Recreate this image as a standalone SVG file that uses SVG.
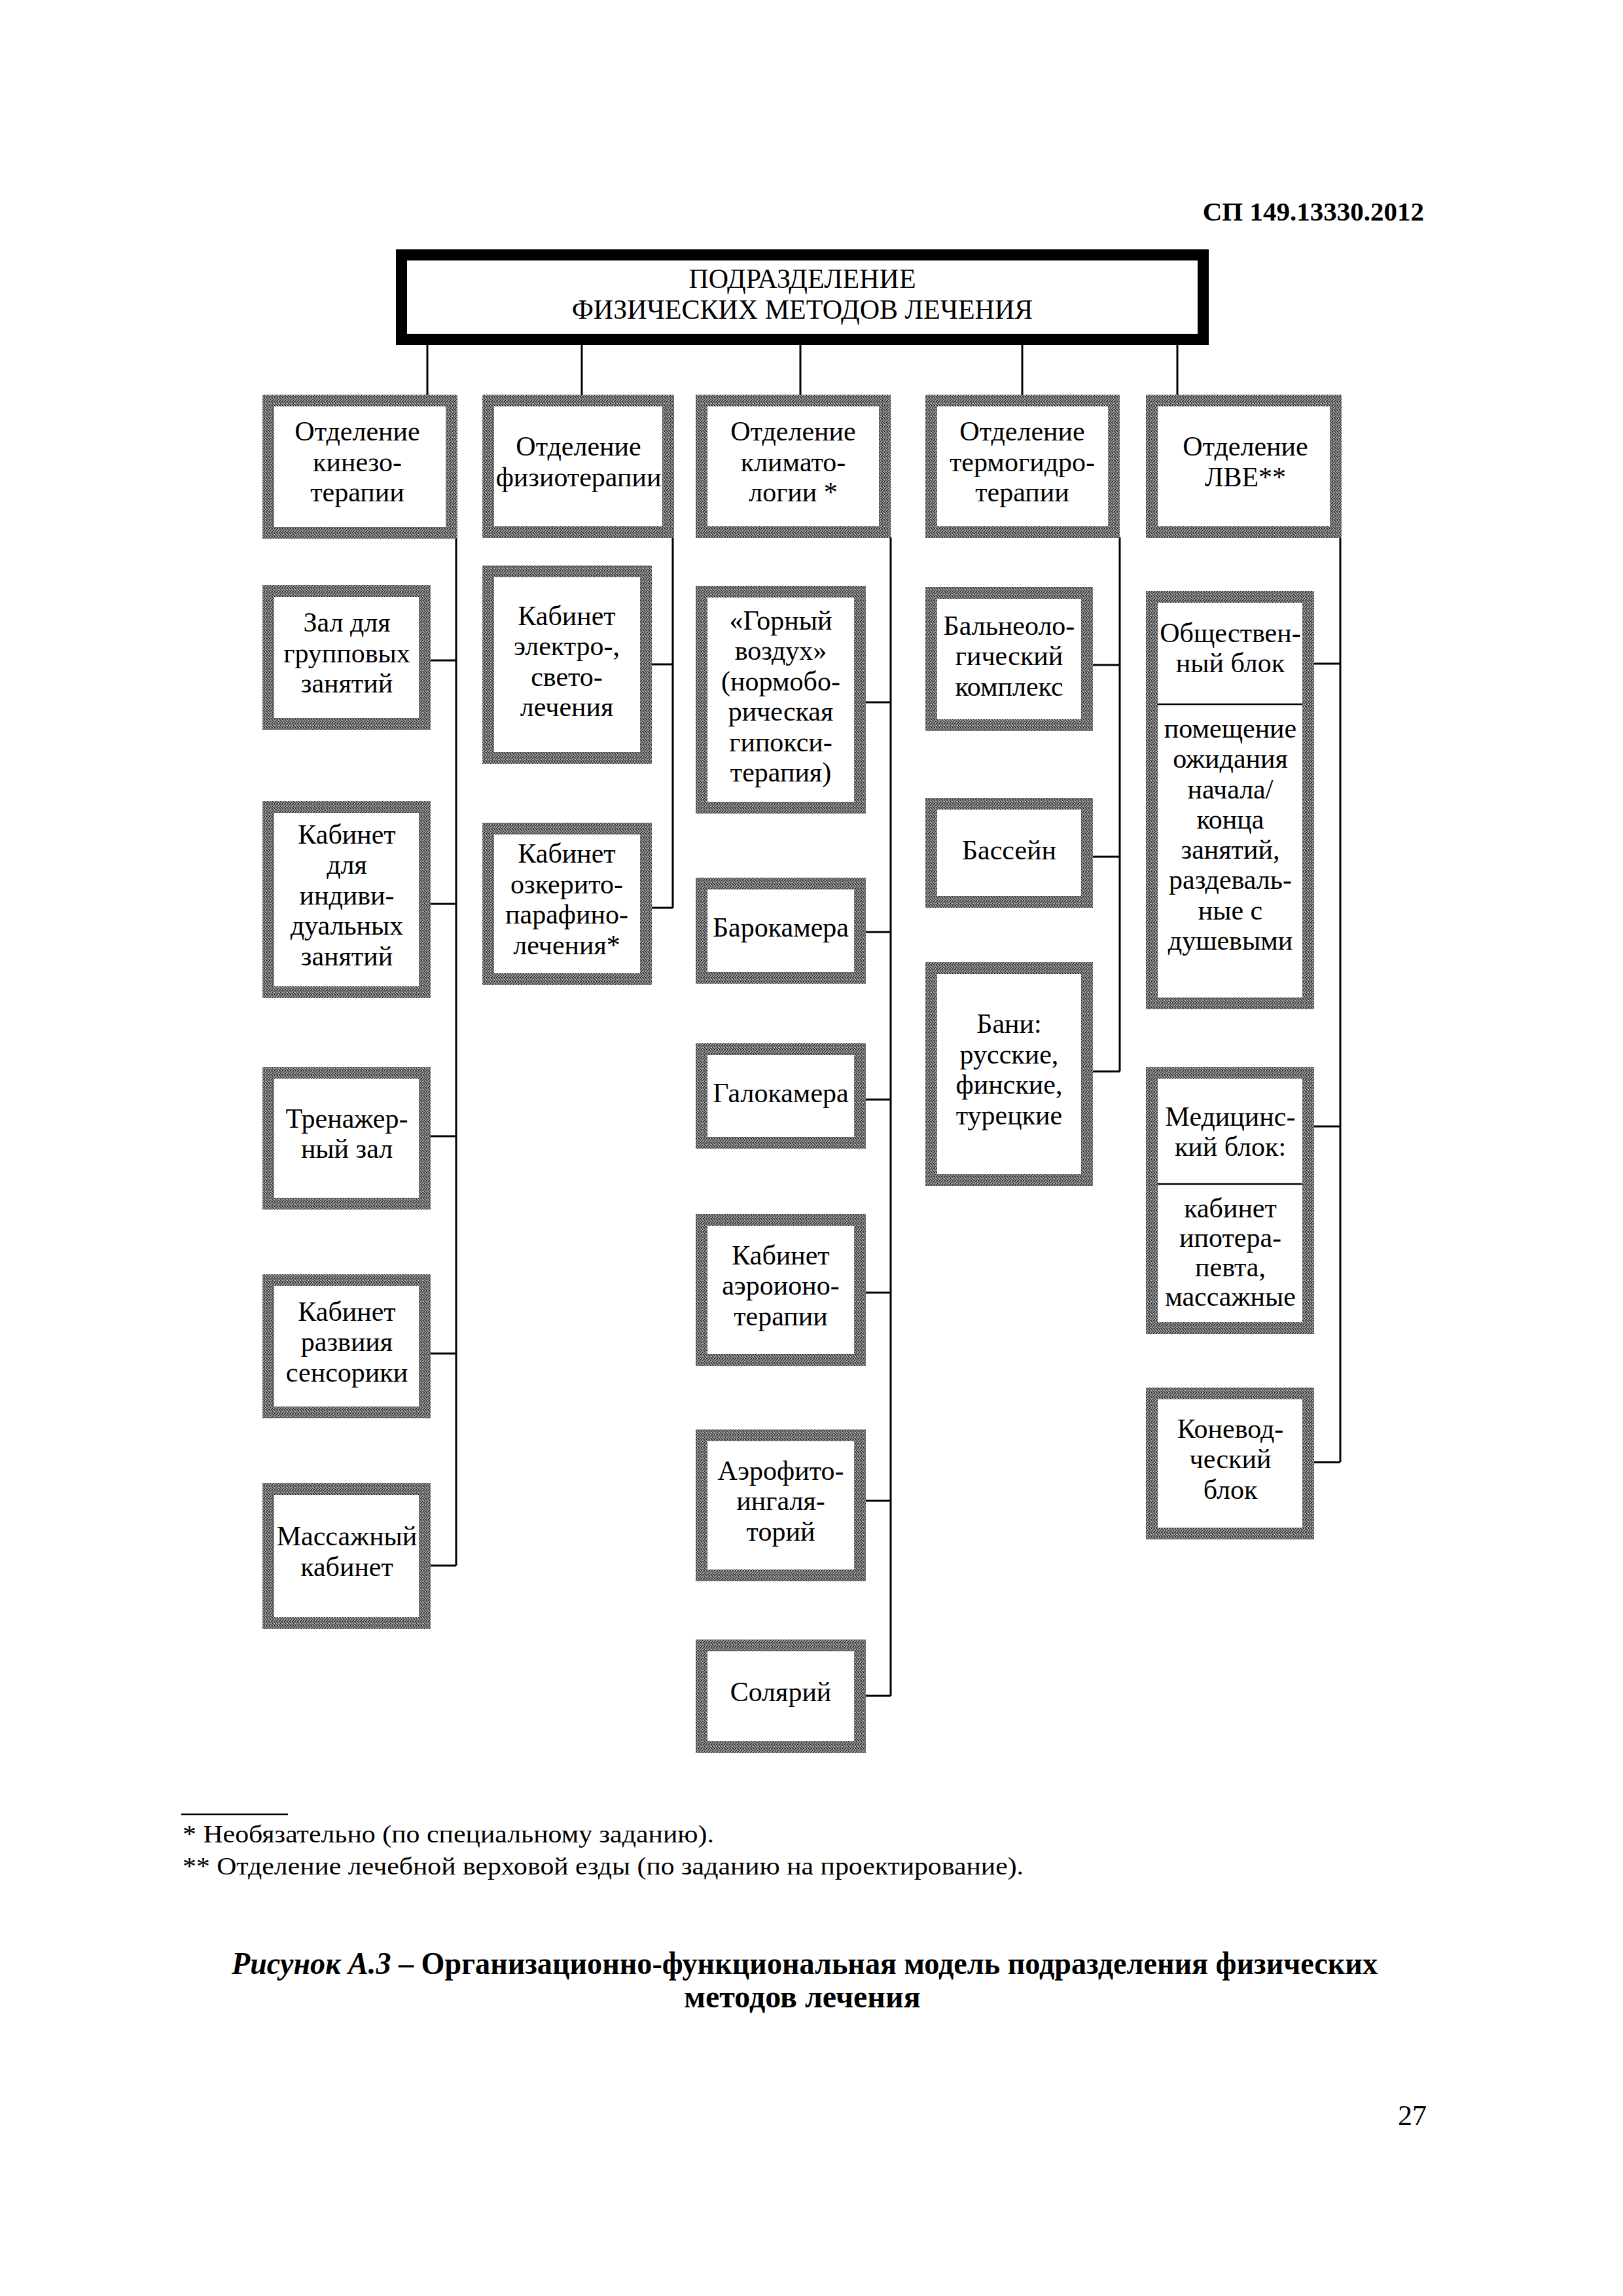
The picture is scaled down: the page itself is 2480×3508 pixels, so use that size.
<svg xmlns="http://www.w3.org/2000/svg" width="2480" height="3508" viewBox="0 0 2480 3508">
<defs>
<pattern id="ht" width="4" height="4" patternUnits="userSpaceOnUse">
<rect width="4" height="4" fill="#8e8e8e"/>
<rect x="0" y="0" width="1" height="1" fill="#1a1a1a"/>
<rect x="2" y="1" width="1" height="1" fill="#2a2a2a"/>
<rect x="1" y="2" width="1" height="1" fill="#222"/>
<rect x="3" y="3" width="1" height="1" fill="#111"/>
<rect x="3" y="1" width="1" height="1" fill="#444"/>
<rect x="3" y="0" width="1" height="1" fill="#cfcfcf"/>
<rect x="1" y="3" width="1" height="1" fill="#bbb"/>
<rect x="0" y="3" width="1" height="1" fill="#444"/>
</pattern>
<style>
.box{fill:#fff;stroke:url(#ht);stroke-width:18}
.top{fill:#fff;stroke:#000;stroke-width:17}
.t{font-family:"Liberation Serif","Times New Roman",serif;font-size:42px;text-anchor:middle;fill:#000}
.ln{stroke:#000;stroke-width:3;fill:none}
.div{stroke:#000;stroke-width:2.5}
.note{font-family:"Liberation Serif","Times New Roman",serif;font-size:37px;fill:#000}
.cap{font-family:"Liberation Serif","Times New Roman",serif;font-size:48px;font-weight:bold;fill:#000}
</style>
</defs>
<rect width="2480" height="3508" fill="#fff"/>

<text x="2176" y="337" font-family="Liberation Serif, serif" font-size="41" font-weight="bold" text-anchor="end">СП 149.13330.2012</text>

<g id="connectors">
<path class="ln" d="M653 527V603M889 527V603M1223 527V603M1562 527V603M1799 527V603"/>
<path class="ln" d="M697 823V2392M658 1009H697M658 1381H697M658 1736H697M658 2068H697M658 2392H697"/>
<path class="ln" d="M1028 821V1387M996 1015H1028M996 1387H1028"/>
<path class="ln" d="M1361 821V2591M1323 1073H1361M1323 1424H1361M1323 1680H1361M1323 1975H1361M1323 2293H1361M1323 2591H1361"/>
<path class="ln" d="M1711 821V1637M1670 1016H1711M1670 1309H1711M1670 1637H1711"/>
<path class="ln" d="M2048 821V2234M2008 1014H2048M2008 1721H2048M2008 2234H2048"/>
</g>

<g id="root">
<rect class="top" x="613.5" y="389.5" width="1225" height="129"/>
<text class="t" x="1226" y="440">ПОДРАЗДЕЛЕНИЕ</text>
<text class="t" x="1226" y="487">ФИЗИЧЕСКИХ МЕТОДОВ ЛЕЧЕНИЯ</text>
</g>

<g id="kinezo">
<rect class="box" x="410" y="612" width="280" height="202"/>
<text class="t" x="546" y="673">Отделение</text>
<text class="t" x="546" y="720">кинезо-</text>
<text class="t" x="546" y="766">терапии</text>
</g>
<g id="fizio">
<rect class="box" x="746" y="612" width="275" height="201"/>
<text class="t" x="884" y="696">Отделение</text>
<text class="t" x="884" y="743">физиотерапии</text>
</g>
<g id="klimato">
<rect class="box" x="1072" y="612" width="280" height="201"/>
<text class="t" x="1212" y="673">Отделение</text>
<text class="t" x="1212" y="720">климато-</text>
<text class="t" x="1212" y="766">логии *</text>
</g>
<g id="termo">
<rect class="box" x="1423" y="612" width="279" height="201"/>
<text class="t" x="1562" y="673">Отделение</text>
<text class="t" x="1562" y="720">термогидро-</text>
<text class="t" x="1562" y="766">терапии</text>
</g>
<g id="lve">
<rect class="box" x="1760" y="612" width="281" height="201"/>
<text class="t" x="1903" y="696">Отделение</text>
<text class="t" x="1903" y="743">ЛВЕ**</text>
</g>

<g id="zal">
<rect class="box" x="410" y="903" width="239" height="203"/>
<text class="t" x="530" y="965">Зал для</text>
<text class="t" x="530" y="1012">групповых</text>
<text class="t" x="530" y="1058">занятий</text>
</g>
<g id="individ">
<rect class="box" x="410" y="1233" width="239" height="283"/>
<text class="t" x="530" y="1289">Кабинет</text>
<text class="t" x="530" y="1335">для</text>
<text class="t" x="530" y="1382">индиви-</text>
<text class="t" x="530" y="1428">дуальных</text>
<text class="t" x="530" y="1475">занятий</text>
</g>
<g id="trenazh">
<rect class="box" x="410" y="1639" width="239" height="200"/>
<text class="t" x="530" y="1723">Тренажер-</text>
<text class="t" x="530" y="1769">ный зал</text>
</g>
<g id="sensor">
<rect class="box" x="410" y="1956" width="239" height="202"/>
<text class="t" x="530" y="2018">Кабинет</text>
<text class="t" x="530" y="2064">развиия</text>
<text class="t" x="530" y="2111">сенсорики</text>
</g>
<g id="massazh">
<rect class="box" x="410" y="2275" width="239" height="205"/>
<text class="t" x="530" y="2361">Массажный</text>
<text class="t" x="530" y="2408">кабинет</text>
</g>

<g id="elektro">
<rect class="box" x="746" y="873" width="241" height="285"/>
<text class="t" x="866" y="955">Кабинет</text>
<text class="t" x="866" y="1001">электро-,</text>
<text class="t" x="866" y="1048">свето-</text>
<text class="t" x="866" y="1094">лечения</text>
</g>
<g id="ozokerit">
<rect class="box" x="746" y="1266" width="241" height="230"/>
<text class="t" x="866" y="1318">Кабинет</text>
<text class="t" x="866" y="1365">озкерито-</text>
<text class="t" x="866" y="1411">парафино-</text>
<text class="t" x="866" y="1458">лечения*</text>
</g>

<g id="gorny">
<rect class="box" x="1072" y="904" width="242" height="330"/>
<text class="t" x="1193" y="962">«Горный</text>
<text class="t" x="1193" y="1008">воздух»</text>
<text class="t" x="1193" y="1055">(нормобо-</text>
<text class="t" x="1193" y="1101">рическая</text>
<text class="t" x="1193" y="1148">гипокси-</text>
<text class="t" x="1193" y="1194">терапия)</text>
</g>
<g id="baro">
<rect class="box" x="1072" y="1350" width="242" height="144"/>
<text class="t" x="1193" y="1431">Барокамера</text>
</g>
<g id="galo">
<rect class="box" x="1072" y="1603" width="242" height="143"/>
<text class="t" x="1193" y="1684">Галокамера</text>
</g>
<g id="aeroion">
<rect class="box" x="1072" y="1864" width="242" height="214"/>
<text class="t" x="1193" y="1932">Кабинет</text>
<text class="t" x="1193" y="1978">аэроионо-</text>
<text class="t" x="1193" y="2025">терапии</text>
</g>
<g id="aerofito">
<rect class="box" x="1072" y="2193" width="242" height="214"/>
<text class="t" x="1193" y="2261">Аэрофито-</text>
<text class="t" x="1193" y="2307">ингаля-</text>
<text class="t" x="1193" y="2354">торий</text>
</g>
<g id="solyariy">
<rect class="box" x="1072" y="2514" width="242" height="155"/>
<text class="t" x="1193" y="2599">Солярий</text>
</g>

<g id="balneo">
<rect class="box" x="1423" y="906" width="238" height="202"/>
<text class="t" x="1542" y="970">Бальнеоло-</text>
<text class="t" x="1542" y="1016">гический</text>
<text class="t" x="1542" y="1063">комплекс</text>
</g>
<g id="bassein">
<rect class="box" x="1423" y="1228" width="238" height="150"/>
<text class="t" x="1542" y="1313">Бассейн</text>
</g>
<g id="bani">
<rect class="box" x="1423" y="1479" width="238" height="324"/>
<text class="t" x="1542" y="1578">Бани:</text>
<text class="t" x="1542" y="1625">русские,</text>
<text class="t" x="1542" y="1671">финские,</text>
<text class="t" x="1542" y="1718">турецкие</text>
</g>

<g id="obshch">
<rect class="box" x="1760" y="912" width="239" height="621"/>
<line class="div" x1="1769" y1="1076" x2="1990" y2="1076"/>
<text class="t" x="1880" y="981">Обществен-</text>
<text class="t" x="1880" y="1027">ный блок</text>
<text class="t" x="1880" y="1127">помещение</text>
<text class="t" x="1880" y="1173">ожидания</text>
<text class="t" x="1880" y="1220">начала/</text>
<text class="t" x="1880" y="1266">конца</text>
<text class="t" x="1880" y="1312">занятий,</text>
<text class="t" x="1880" y="1358">раздеваль-</text>
<text class="t" x="1880" y="1405">ные с</text>
<text class="t" x="1880" y="1451">душевыми</text>
</g>
<g id="med">
<rect class="box" x="1760" y="1639" width="239" height="390"/>
<line class="div" x1="1769" y1="1809" x2="1990" y2="1809"/>
<text class="t" x="1880" y="1720">Медицинс-</text>
<text class="t" x="1880" y="1766">кий блок:</text>
<text class="t" x="1880" y="1860">кабинет</text>
<text class="t" x="1880" y="1905">ипотера-</text>
<text class="t" x="1880" y="1950">певта,</text>
<text class="t" x="1880" y="1995">массажные</text>
</g>
<g id="konevod">
<rect class="box" x="1760" y="2129" width="239" height="214"/>
<text class="t" x="1880" y="2197">Коневод-</text>
<text class="t" x="1880" y="2243">ческий</text>
<text class="t" x="1880" y="2290">блок</text>
</g>

<line x1="277" y1="2772" x2="440" y2="2772" stroke="#000" stroke-width="2.5"/>
<text class="note" x="279" y="2815" textLength="812" lengthAdjust="spacingAndGlyphs">* Необязательно (по специальному заданию).</text>
<text class="note" x="279" y="2864" textLength="1285" lengthAdjust="spacingAndGlyphs">** Отделение лечебной верховой езды (по заданию на проектирование).</text>

<text class="cap" x="354" y="3016" textLength="1751" lengthAdjust="spacingAndGlyphs"><tspan font-style="italic">Рисунок А.3</tspan> – Организационно-функциональная модель подразделения физических</text>
<text class="cap" x="1226" y="3067" text-anchor="middle">методов лечения</text>

<text x="2180" y="3247" font-family="Liberation Serif, serif" font-size="44" text-anchor="end">27</text>
</svg>
